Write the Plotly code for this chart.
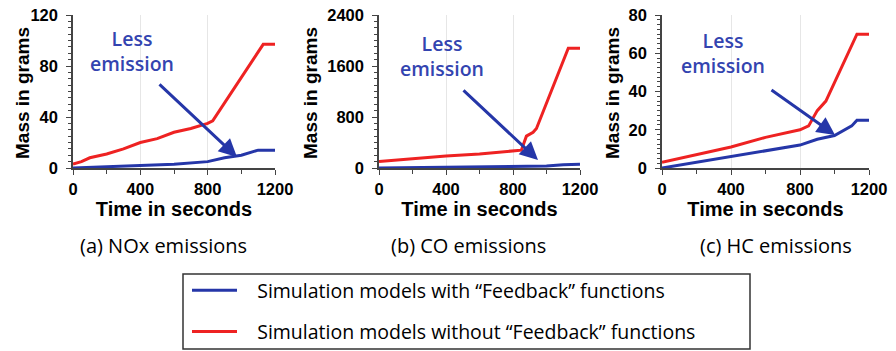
import plotly.graph_objects as go
from plotly.subplots import make_subplots

# ---- data ----
nox_red_t = [0, 50, 100, 200, 300, 400, 500, 600, 700, 800, 830, 1130, 1200]
nox_red_v = [3, 5, 8, 11, 15, 20, 23, 28, 31, 35, 37, 97, 97]
nox_blue_t = [0, 400, 600, 800, 900, 1000, 1100, 1200]
nox_blue_v = [0, 2, 3, 5, 8, 10, 14, 14]

co_red_t = [0, 200, 400, 600, 800, 850, 880, 920, 940, 1130, 1200]
co_red_v = [100, 150, 190, 220, 260, 280, 500, 560, 620, 1880, 1880]
co_blue_t = [0, 800, 1000, 1100, 1200]
co_blue_v = [0, 20, 30, 50, 60]

hc_red_t = [0, 200, 400, 600, 800, 850, 900, 950, 1130, 1200]
hc_red_v = [3, 7, 11, 16, 20, 22, 30, 35, 70, 70]
hc_blue_t = [0, 200, 400, 600, 800, 900, 1000, 1100, 1130, 1200]
hc_blue_v = [0, 3, 6, 9, 12, 15, 17, 22, 25, 25]

subtitles = ["(a) NOx emissions", "(b) CO emissions", "(c) HC emissions"]
y_ranges = [[0, 120], [0, 2400], [0, 80]]
y_dticks = [40, 800, 20]
y_title = "Mass in grams"
x_title = "Time in seconds"
series_names = ["\u00a0\u00a0\u00a0Simulation models with “Feedback” functions",
                "\u00a0\u00a0\u00a0Simulation models without “Feedback” functions"]

RED = "#ee2222"
BLUE = "#2536a8"
TXT_BLUE = "#3344b0"

fig = make_subplots(rows=1, cols=3)

panels = [
    (nox_blue_t, nox_blue_v, nox_red_t, nox_red_v),
    (co_blue_t, co_blue_v, co_red_t, co_red_v),
    (hc_blue_t, hc_blue_v, hc_red_t, hc_red_v),
]
for i, (bt, bv, rt, rv) in enumerate(panels):
    fig.add_trace(go.Scatter(x=bt, y=bv, mode="lines", line=dict(color=BLUE, width=3),
                             name=series_names[0], showlegend=(i == 0), legendgroup="a"),
                  row=1, col=i + 1)
    fig.add_trace(go.Scatter(x=rt, y=rv, mode="lines", line=dict(color=RED, width=3),
                             name=series_names[1], showlegend=(i == 0), legendgroup="b"),
                  row=1, col=i + 1)

W, H = 896, 351
xdoms = [(73, 275), (379, 580), (662, 869)]
ytitle_x = [23, 311, 613]
ytop, ybot = 15, 168
for i in range(3):
    xa = "xaxis" if i == 0 else f"xaxis{i+1}"
    ya = "yaxis" if i == 0 else f"yaxis{i+1}"
    fig.layout[xa].update(
        domain=[xdoms[i][0] / W, xdoms[i][1] / W], range=[0, 1200], dtick=400, tick0=0,
        showline=True, linecolor="#444", linewidth=1.5, ticks="outside", ticklen=5,
        tickcolor="#444", showgrid=True, gridcolor="#e6e6e6", zeroline=False, automargin=False,
        tickfont=dict(family="Liberation Sans", size=16.5, color="black", weight="bold"),
        title=dict(text="<b>" + x_title + "</b>", standoff=2,
                   font=dict(family="Liberation Sans", size=20, color="black")),
        minor=dict(dtick=200, ticks="outside", ticklen=4, tickcolor="#444", showgrid=False),
    )
    fig.layout[ya].update(
        domain=[1 - ybot / H, 1 - ytop / H], range=y_ranges[i], dtick=y_dticks[i], tick0=0,
        showline=True, linecolor="#444", linewidth=1.5, ticks="outside", ticklen=5,
        tickcolor="#444", showgrid=False, zeroline=False, automargin=False,
        ticklabelstandoff=5,
        tickfont=dict(family="Liberation Sans", size=16.5, color="black", weight="bold"),
        minor=dict(dtick=y_dticks[i] / 8, ticks="outside", ticklen=3, tickcolor="#444", showgrid=False),
    )
    fig.add_annotation(text="<b>" + y_title + "</b>", textangle=-90,
                       x=ytitle_x[i] / W, y=1 - 93 / H, xref="paper", yref="paper",
                       xanchor="center", yanchor="middle", showarrow=False,
                       font=dict(family="Liberation Sans", size=19, color="black"))
    cx = [163, 468, 776][i]
    fig.add_annotation(text=subtitles[i], x=cx / W, y=1 - 245 / H, xref="paper", yref="paper",
                       xanchor="center", yanchor="middle",
                       showarrow=False, font=dict(family="Open Sans", size=20, color="black"))

# "Less emission" labels and arrows (paper pixel positions)
labels = [((132, 51), (158, 83), (237, 157)),
          ((442, 56), (462, 89), (538, 160)),
          ((723, 53), (770, 89), (835, 135))]
for (tx, ty), (ax0, ay0), (ax1, ay1) in labels:
    fig.add_annotation(text="Less<br>emission", x=tx / W, y=1 - ty / H, xref="paper", yref="paper",
                       xanchor="center", yanchor="middle",
                       showarrow=False, font=dict(family="Open Sans", size=19.5, color=TXT_BLUE, weight=600),
                       align="center")
    fig.add_annotation(x=ax1 / W, y=1 - ay1 / H, ax=ax0 - ax1, ay=ay0 - ay1,
                       xref="paper", yref="paper", axref="pixel", ayref="pixel",
                       text="", showarrow=True, arrowhead=2, arrowsize=1.2, arrowwidth=3,
                       arrowcolor=BLUE)

# legend box
fig.add_shape(type="rect", xref="paper", yref="paper", x0=183 / W, x1=750 / W,
              y0=1 - 349 / H, y1=1 - 274 / H, line=dict(color="#333", width=1.5))

fig.update_layout(
    width=W, height=H, margin=dict(l=0, r=0, t=0, b=0, autoexpand=False),
    plot_bgcolor="white", paper_bgcolor="white",
    legend=dict(x=187 / W, y=1 - 271 / H, xanchor="left", yanchor="top",
                bgcolor="rgba(0,0,0,0)", font=dict(family="Open Sans", size=19.5, color="black"),
                tracegroupgap=13, traceorder="grouped", itemwidth=45),
)

fig.write_html("out.html", config={"displayModeBar": False},
               post_script="document.body.style.margin='0';")
